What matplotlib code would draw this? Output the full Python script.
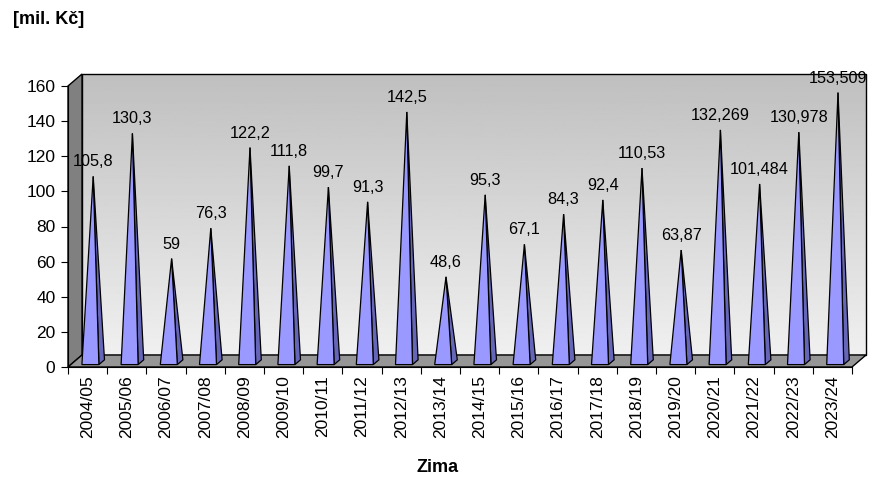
import matplotlib
matplotlib.use("Agg")
import matplotlib.pyplot as plt
import numpy as np
from matplotlib.patches import Polygon

plt.rcParams['font.family'] = ['Liberation Sans', 'DejaVu Sans']

seasons = ["2004/05", "2005/06", "2006/07", "2007/08", "2008/09", "2009/10",
           "2010/11", "2011/12", "2012/13", "2013/14", "2014/15", "2015/16",
           "2016/17", "2017/18", "2018/19", "2019/20", "2020/21", "2021/22",
           "2022/23", "2023/24"]
values = [105.8, 130.3, 59, 76.3, 122.2, 111.8, 99.7, 91.3, 142.5, 48.6,
          95.3, 67.1, 84.3, 92.4, 110.53, 63.87, 132.269, 101.484, 130.978, 153.509]
labels = ["105,8", "130,3", "59", "76,3", "122,2", "111,8", "99,7", "91,3", "142,5", "48,6",
          "95,3", "67,1", "84,3", "92,4", "110,53", "63,87", "132,269", "101,484", "130,978", "153,509"]

W, H = 877, 491
fig = plt.figure(figsize=(W / 100, H / 100), dpi=100)
# front plane of the pseudo-3D box, in pixels
x0, x1, y0, y1 = 68, 852, 367, 86
ax = fig.add_axes([x0 / W, 1 - y0 / H, (x1 - x0) / W, (y0 - y1) / H])
n = len(values)
ymax = 160
ax.set_xlim(0, n)
ax.set_ylim(0, ymax)

# depth offset (pixels -> data units)
px_x = (x1 - x0) / n
px_y = (y0 - y1) / ymax
DX = 14 / px_x
DY = 12 / px_y

# back wall with gradient
back = Polygon([(DX, DY), (n + DX, DY), (n + DX, ymax + DY), (DX, ymax + DY)],
               closed=True, facecolor='none', edgecolor='black', lw=1, clip_on=False, zorder=2)
grad = np.linspace(0.94, 0.75, 256).reshape(-1, 1)
im = ax.imshow(grad, cmap='gray', vmin=0, vmax=1, aspect='auto', origin='lower',
               extent=(DX, n + DX, DY, ymax + DY), zorder=1, clip_on=False)
ax.add_patch(back)
im.set_clip_path(back)
ax.set_xlim(0, n)
ax.set_ylim(0, ymax)

# side wall and floor
ax.add_patch(Polygon([(0, 0), (DX, DY), (DX, ymax + DY), (0, ymax)], closed=True,
                     facecolor='#808080', edgecolor='black', lw=1, clip_on=False, zorder=3))
ax.add_patch(Polygon([(0, 0), (n, 0), (n + DX, DY), (DX, DY)], closed=True,
                     facecolor='#969696', edgecolor='black', lw=1, clip_on=False, zorder=3))

# pyramids
hw = 8.5 / px_x
f0, f1 = 0.2, 0.6
fa = (f0 + f1) / 2
for i, (v, lab) in enumerate(zip(values, labels)):
    cx = i + 0.5
    apex = (cx + fa * DX, fa * DY + v)
    fl = (cx - hw + f0 * DX, f0 * DY)
    fr = (cx + hw + f0 * DX, f0 * DY)
    br = (cx + hw + f1 * DX, f1 * DY)
    ax.add_patch(Polygon([fr, br, apex], closed=True, facecolor='#6666B8',
                         edgecolor='black', lw=0.9, zorder=4, clip_on=False))
    ax.add_patch(Polygon([fl, fr, apex], closed=True, facecolor='#9999FF',
                         edgecolor='black', lw=0.9, zorder=5, clip_on=False))
    ax.annotate(lab, apex, xytext=(0, 5), textcoords='offset points', ha='center',
                va='bottom', fontsize=11.7, zorder=6, annotation_clip=False)

for s in ['top', 'right']:
    ax.spines[s].set_visible(False)
ax.spines['left'].set_zorder(7)
ax.spines['bottom'].set_zorder(7)
ax.set_yticks(np.arange(0, ymax + 1, 20))
ax.set_xticks(np.arange(0, n + 1), minor=False)
ax.set_xticklabels([])
ax.set_xticks(np.arange(n) + 0.5, minor=True)
ax.set_xticklabels(seasons, minor=True, rotation=90, fontsize=12.5)
ax.tick_params(axis='x', which='minor', length=0, pad=6)
ax.tick_params(axis='x', which='major', length=5, direction='out')
ax.tick_params(axis='y', length=5, labelsize=12.5, pad=4)

fig.text(13 / W, 1 - 20 / H, "[mil. Kč]", fontsize=13, fontweight='bold', va='center')
fig.text(438 / W, 1 - 468 / H, "Zima", fontsize=13, fontweight='bold', ha='center', va='center')

fig.savefig("out.png", dpi=100)
